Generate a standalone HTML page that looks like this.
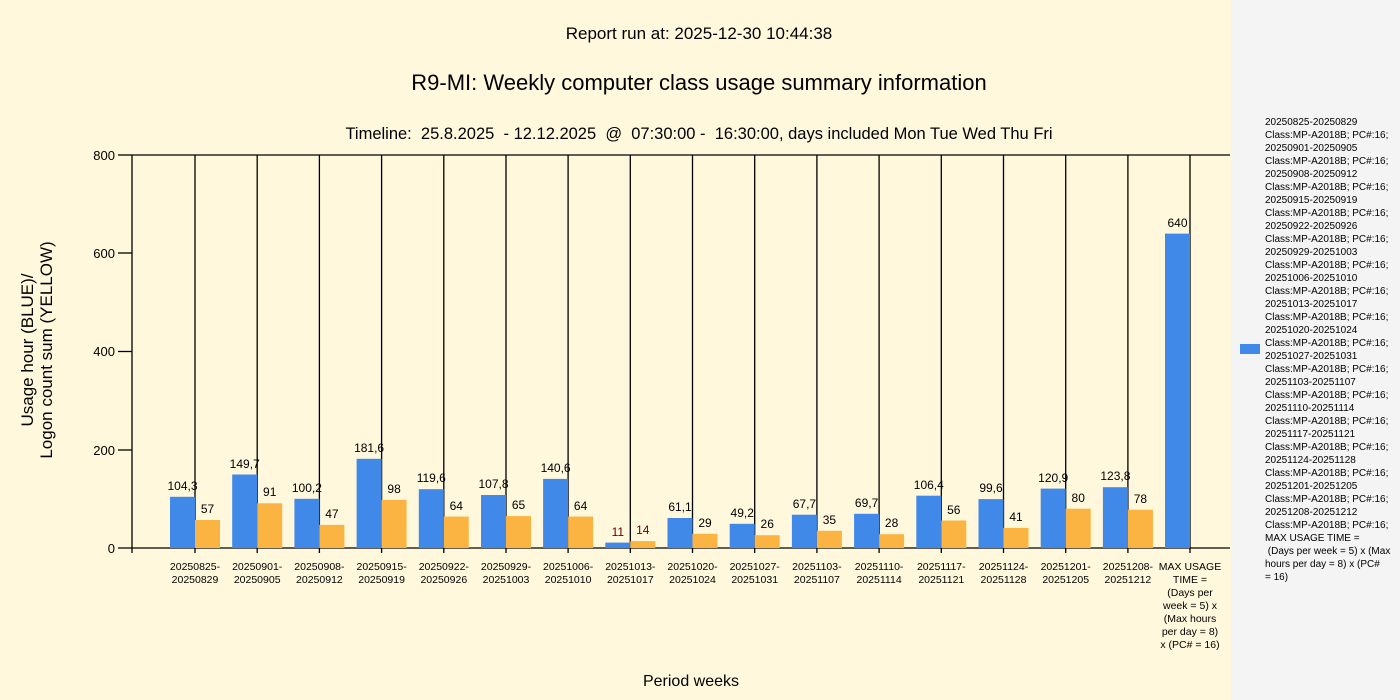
<!DOCTYPE html>
<html><head><meta charset="utf-8"><style>
html,body{margin:0;padding:0;width:1400px;height:700px;overflow:hidden;background:#fff8dc}
svg{display:block;font-family:"Liberation Sans",sans-serif}
</style></head><body>
<svg width="1400" height="700" xmlns="http://www.w3.org/2000/svg">
<rect x="0" y="0" width="1231" height="700" fill="#fff8dc"/>
<rect x="1231" y="0" width="169" height="700" fill="#f4f4f4"/>
<text x="699" y="39" font-size="17" text-anchor="middle" fill="#000">Report run at: 2025-12-30 10:44:38</text>
<text x="699" y="90" font-size="22" text-anchor="middle" fill="#000">R9-MI: Weekly computer class usage summary information</text>
<text x="699" y="139" font-size="16.5" text-anchor="middle" fill="#000" style="white-space:pre">Timeline:  25.8.2025  - 12.12.2025  @  07:30:00 -  16:30:00, days included Mon Tue Wed Thu Fri</text>
<g font-size="17" fill="#000" text-anchor="middle">
<text transform="translate(33,350) rotate(-90)">Usage hour (BLUE)/</text>
<text transform="translate(52,350) rotate(-90)">Logon count sum (YELLOW)</text>
</g>
<text x="691" y="686" font-size="16" text-anchor="middle">Period weeks</text>
<g stroke="#000" stroke-width="1.3" fill="none">
<line x1="132" y1="155" x2="1230" y2="155"/>
<line x1="132" y1="155" x2="132" y2="553"/>
<line x1="118" y1="548" x2="1230" y2="548"/>
<line x1="118" y1="155" x2="132" y2="155"/>
<line x1="118" y1="253" x2="132" y2="253"/>
<line x1="118" y1="351.5" x2="132" y2="351.5"/>
<line x1="118" y1="450" x2="132" y2="450"/>
<line x1="195" y1="155" x2="195" y2="553"/><line x1="257.2" y1="155" x2="257.2" y2="553"/><line x1="319.4" y1="155" x2="319.4" y2="553"/><line x1="381.6" y1="155" x2="381.6" y2="553"/><line x1="443.8" y1="155" x2="443.8" y2="553"/><line x1="506" y1="155" x2="506" y2="553"/><line x1="568.1" y1="155" x2="568.1" y2="553"/><line x1="630.3" y1="155" x2="630.3" y2="553"/><line x1="692.5" y1="155" x2="692.5" y2="553"/><line x1="754.7" y1="155" x2="754.7" y2="553"/><line x1="816.9" y1="155" x2="816.9" y2="553"/><line x1="879.1" y1="155" x2="879.1" y2="553"/><line x1="941.3" y1="155" x2="941.3" y2="553"/><line x1="1003.5" y1="155" x2="1003.5" y2="553"/><line x1="1065.7" y1="155" x2="1065.7" y2="553"/><line x1="1127.9" y1="155" x2="1127.9" y2="553"/><line x1="1190" y1="155" x2="1190" y2="553"/>
</g>
<g font-size="13" text-anchor="end" fill="#000">
<text x="115" y="160">800</text><text x="115" y="258">600</text><text x="115" y="356">400</text><text x="115" y="455">200</text><text x="115" y="553">0</text>
</g>
<g fill="#4189e9">
<rect x="170" y="496.8" width="25" height="51.2"/><rect x="232.2" y="474.5" width="25" height="73.5"/><rect x="294.4" y="498.8" width="25" height="49.2"/><rect x="356.6" y="458.8" width="25" height="89.2"/><rect x="418.8" y="489.2" width="25" height="58.8"/><rect x="481" y="495" width="25" height="53"/><rect x="543.1" y="478.9" width="25" height="69.1"/><rect x="605.3" y="542.6" width="25" height="5.4"/><rect x="667.5" y="518" width="25" height="30"/><rect x="729.7" y="523.8" width="25" height="24.2"/><rect x="791.9" y="514.7" width="25" height="33.3"/><rect x="854.1" y="513.8" width="25" height="34.2"/><rect x="916.3" y="495.7" width="25" height="52.3"/><rect x="978.5" y="499.1" width="25" height="48.9"/><rect x="1040.7" y="488.6" width="25" height="59.4"/><rect x="1102.9" y="487.2" width="25" height="60.8"/><rect x="1165" y="233.6" width="25" height="314.4"/>
</g>
<g fill="#fbb441">
<rect x="195" y="520" width="25" height="28"/><rect x="257.2" y="503.3" width="25" height="44.7"/><rect x="319.4" y="524.9" width="25" height="23.1"/><rect x="381.6" y="499.9" width="25" height="48.1"/><rect x="443.8" y="516.6" width="25" height="31.4"/><rect x="506" y="516.1" width="25" height="31.9"/><rect x="568.1" y="516.6" width="25" height="31.4"/><rect x="630.3" y="541.1" width="25" height="6.9"/><rect x="692.5" y="533.8" width="25" height="14.2"/><rect x="754.7" y="535.2" width="25" height="12.8"/><rect x="816.9" y="530.8" width="25" height="17.2"/><rect x="879.1" y="534.2" width="25" height="13.8"/><rect x="941.3" y="520.5" width="25" height="27.5"/><rect x="1003.5" y="527.9" width="25" height="20.1"/><rect x="1065.7" y="508.7" width="25" height="39.3"/><rect x="1127.9" y="509.7" width="25" height="38.3"/>
</g>
<g font-size="12" text-anchor="middle" fill="#000">
<text x="182.5" y="490">104,3</text><text x="244.7" y="468">149,7</text><text x="306.9" y="492">100,2</text><text x="369.1" y="452">181,6</text><text x="431.3" y="482">119,6</text><text x="493.5" y="488">107,8</text><text x="555.6" y="472">140,6</text><text x="617.8" y="536" fill="#600">11</text><text x="680" y="511">61,1</text><text x="742.2" y="517">49,2</text><text x="804.4" y="508">67,7</text><text x="866.6" y="507">69,7</text><text x="928.8" y="489">106,4</text><text x="991" y="492">99,6</text><text x="1053.2" y="482">120,9</text><text x="1115.4" y="480">123,8</text><text x="1177.5" y="227">640</text>
<text x="207.5" y="513">57</text><text x="269.7" y="496">91</text><text x="331.9" y="518">47</text><text x="394.1" y="493">98</text><text x="456.3" y="510">64</text><text x="518.5" y="509">65</text><text x="580.6" y="510">64</text><text x="642.8" y="534" fill="#600">14</text><text x="705" y="527">29</text><text x="767.2" y="528">26</text><text x="829.4" y="524">35</text><text x="891.6" y="527">28</text><text x="953.8" y="514">56</text><text x="1016" y="521">41</text><text x="1078.2" y="502">80</text><text x="1140.4" y="503">78</text>
</g>
<g font-size="10.5" text-anchor="middle" fill="#000">
<text x="195" y="570">20250825-</text><text x="195" y="583">20250829</text>
<text x="257.2" y="570">20250901-</text><text x="257.2" y="583">20250905</text>
<text x="319.4" y="570">20250908-</text><text x="319.4" y="583">20250912</text>
<text x="381.6" y="570">20250915-</text><text x="381.6" y="583">20250919</text>
<text x="443.8" y="570">20250922-</text><text x="443.8" y="583">20250926</text>
<text x="506" y="570">20250929-</text><text x="506" y="583">20251003</text>
<text x="568.1" y="570">20251006-</text><text x="568.1" y="583">20251010</text>
<text x="630.3" y="570">20251013-</text><text x="630.3" y="583">20251017</text>
<text x="692.5" y="570">20251020-</text><text x="692.5" y="583">20251024</text>
<text x="754.7" y="570">20251027-</text><text x="754.7" y="583">20251031</text>
<text x="816.9" y="570">20251103-</text><text x="816.9" y="583">20251107</text>
<text x="879.1" y="570">20251110-</text><text x="879.1" y="583">20251114</text>
<text x="941.3" y="570">20251117-</text><text x="941.3" y="583">20251121</text>
<text x="1003.5" y="570">20251124-</text><text x="1003.5" y="583">20251128</text>
<text x="1065.7" y="570">20251201-</text><text x="1065.7" y="583">20251205</text>
<text x="1127.9" y="570">20251208-</text><text x="1127.9" y="583">20251212</text>
<text x="1190" y="570">MAX USAGE</text><text x="1190" y="583">TIME =</text><text x="1190" y="596">(Days per</text><text x="1190" y="609">week = 5) x</text><text x="1190" y="622">(Max hours</text><text x="1190" y="635">per day = 8)</text><text x="1190" y="648">x (PC# = 16)</text>
</g>
<rect x="1240" y="344" width="20" height="10" fill="#4189e9"/>
<g font-size="10" fill="#000">
<text x="1265" y="125">20250825-20250829</text><text x="1265" y="138">Class:MP-A2018B; PC#:16;</text>
<text x="1265" y="151">20250901-20250905</text><text x="1265" y="164">Class:MP-A2018B; PC#:16;</text>
<text x="1265" y="177">20250908-20250912</text><text x="1265" y="190">Class:MP-A2018B; PC#:16;</text>
<text x="1265" y="203">20250915-20250919</text><text x="1265" y="216">Class:MP-A2018B; PC#:16;</text>
<text x="1265" y="229">20250922-20250926</text><text x="1265" y="242">Class:MP-A2018B; PC#:16;</text>
<text x="1265" y="255">20250929-20251003</text><text x="1265" y="268">Class:MP-A2018B; PC#:16;</text>
<text x="1265" y="281">20251006-20251010</text><text x="1265" y="294">Class:MP-A2018B; PC#:16;</text>
<text x="1265" y="307">20251013-20251017</text><text x="1265" y="320">Class:MP-A2018B; PC#:16;</text>
<text x="1265" y="333">20251020-20251024</text><text x="1265" y="346">Class:MP-A2018B; PC#:16;</text>
<text x="1265" y="359">20251027-20251031</text><text x="1265" y="372">Class:MP-A2018B; PC#:16;</text>
<text x="1265" y="385">20251103-20251107</text><text x="1265" y="398">Class:MP-A2018B; PC#:16;</text>
<text x="1265" y="411">20251110-20251114</text><text x="1265" y="424">Class:MP-A2018B; PC#:16;</text>
<text x="1265" y="437">20251117-20251121</text><text x="1265" y="450">Class:MP-A2018B; PC#:16;</text>
<text x="1265" y="463">20251124-20251128</text><text x="1265" y="476">Class:MP-A2018B; PC#:16;</text>
<text x="1265" y="489">20251201-20251205</text><text x="1265" y="502">Class:MP-A2018B; PC#:16;</text>
<text x="1265" y="515">20251208-20251212</text><text x="1265" y="528">Class:MP-A2018B; PC#:16;</text>
<text x="1265" y="541">MAX USAGE TIME =</text><text x="1265" y="554" style="white-space:pre"> (Days per week = 5) x (Max</text>
<text x="1265" y="567">hours per day = 8) x (PC#</text><text x="1265" y="580">= 16)</text>
</g>
</svg>
</body></html>
